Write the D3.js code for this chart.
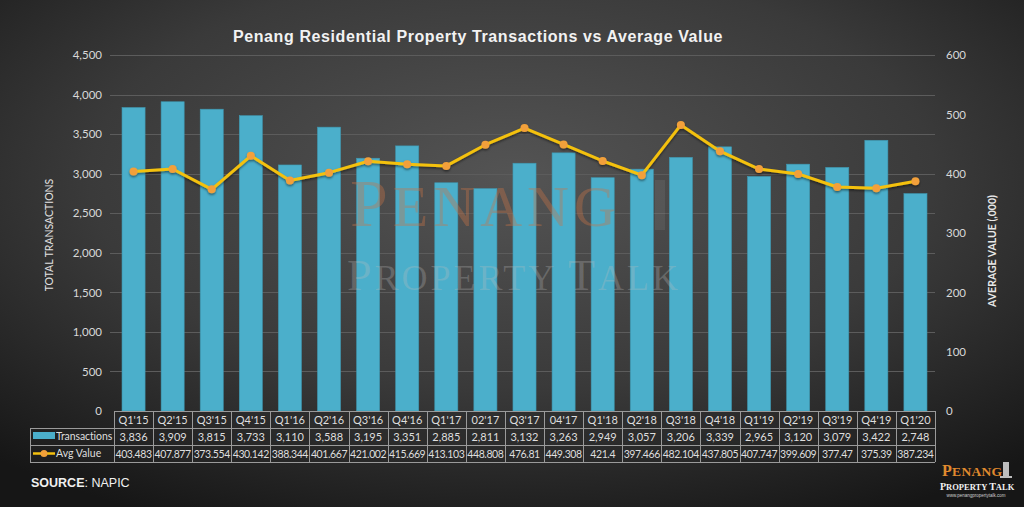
<!DOCTYPE html>
<html><head><meta charset="utf-8">
<script src="https://cdn.jsdelivr.net/npm/d3@7"></script>
<style>
html,body{margin:0;padding:0;background:#2a2a2a;}
svg{display:block;}
</style></head>
<body>
<svg id="chart" width="1024" height="507"></svg>
<script>
const categories = ["Q1'15","Q2'15","Q3'15","Q4'15","Q1'16","Q2'16","Q3'16","Q4'16","Q1'17","02'17","Q3'17","04'17","Q1'18","Q2'18","Q3'18","Q4'18","Q1'19","Q2'19","Q3'19","Q4'19","Q1'20"];
const transactions = [3836,3909,3815,3733,3110,3588,3195,3351,2885,2811,3132,3263,2949,3057,3206,3339,2965,3120,3079,3422,2748];
const avgValue = [403.483,407.877,373.554,430.142,388.344,401.667,421.002,415.669,413.103,448.808,476.81,449.308,421.4,397.466,482.104,437.805,407.747,399.609,377.47,375.39,387.234];
const avgLabels = ["403.483","407.877","373.554","430.142","388.344","401.667","421.002","415.669","413.103","448.808","476.81","449.308","421.4","397.466","482.104","437.805","407.747","399.609","377.47","375.39","387.234"];
const leftTicks = [0,500,1000,1500,2000,2500,3000,3500,4000,4500];
const rightTicks = [0,100,200,300,400,500,600];
const titleText = "Penang Residential Property Transactions vs Average Value";

const svg = d3.select("#chart");
const W = 1024, H = 507;
const plot = {l:114, r:935, t:55, b:411};
const font = "Lato, 'Open Sans', sans-serif";
const serif = "'Liberation Serif', 'DejaVu Serif', serif";

// background
const defs = svg.append("defs");
const rg = defs.append("radialGradient").attr("id","bg").attr("cx","0.5").attr("cy","0.35").attr("r","0.75");
rg.append("stop").attr("offset","0").attr("stop-color","#545454");
rg.append("stop").attr("offset","0.55").attr("stop-color","#3a3a3a");
rg.append("stop").attr("offset","1").attr("stop-color","#161616");
svg.append("rect").attr("width",W).attr("height",H).attr("fill","url(#bg)");

const x = d3.scaleBand().domain(categories).range([plot.l, plot.r]).paddingInner(0.41).paddingOuter(0.205);
const xCell = d3.scaleBand().domain(categories).range([plot.l, plot.r]);
const yL = d3.scaleLinear().domain([0,4500]).range([plot.b, plot.t]);
const yR = d3.scaleLinear().domain([0,600]).range([plot.b, plot.t]);

// gridlines
svg.append("g").selectAll("line").data(leftTicks.filter(d=>d>0)).join("line")
  .attr("x1", plot.l-4).attr("x2", plot.r)
  .attr("y1", d=>Math.round(yL(d))+0.5).attr("y2", d=>Math.round(yL(d))+0.5)
  .attr("stroke","#5c5c5c").attr("stroke-width",1);

// bars
svg.append("g").selectAll("rect").data(transactions).join("rect")
  .attr("x",(d,i)=>x(categories[i])).attr("width",x.bandwidth())
  .attr("y",d=>yL(d)).attr("height",d=>plot.b-yL(d))
  .attr("fill","#4bafcb").attr("stroke","#3f97b0").attr("stroke-width",0.6);

// watermark (small caps style), drawn over bars
const wm = svg.append("g").attr("pointer-events","none");
const w1 = wm.append("text").attr("x",350).attr("y",226).attr("font-family",serif)
  .attr("letter-spacing",5).attr("fill","rgba(200,115,70,0.38)");
w1.append("tspan").attr("font-size",68).text("P");
w1.append("tspan").attr("font-size",58).text("ENANG");
const w2 = wm.append("text").attr("x",347).attr("y",290).attr("font-family",serif)
  .attr("letter-spacing",3).attr("fill","rgba(190,190,190,0.28)");
w2.append("tspan").attr("font-size",44).text("P");
w2.append("tspan").attr("font-size",36).text("ROPERTY ");
w2.append("tspan").attr("font-size",44).text("T");
w2.append("tspan").attr("font-size",36).text("ALK");
wm.append("rect").attr("x",655).attr("y",180).attr("width",10).attr("height",50).attr("fill","rgba(200,200,200,0.10)");

// line
const line = d3.line().x((d,i)=>x(categories[i])+x.bandwidth()/2).y(d=>yR(d));
defs.append("filter").attr("id","sh").attr("x","-10%").attr("y","-10%").attr("width","120%").attr("height","130%")
  .append("feDropShadow").attr("dx",0).attr("dy",1.5).attr("stdDeviation",1).attr("flood-color","#000").attr("flood-opacity",0.5);
const lg = svg.append("g").attr("filter","url(#sh)");
lg.append("path").datum(avgValue).attr("d",line).attr("fill","none").attr("stroke","#f4c10f").attr("stroke-width",3).attr("stroke-linejoin","round");
lg.selectAll("circle").data(avgValue).join("circle")
  .attr("cx",(d,i)=>x(categories[i])+x.bandwidth()/2).attr("cy",d=>yR(d)).attr("r",4)
  .attr("fill","#f2a03a");

// left axis
const la = svg.append("g").attr("transform",`translate(${plot.l-12},0)`)
  .call(d3.axisLeft(yL).tickValues(leftTicks).tickFormat(d3.format(",")).tickSize(0).tickPadding(0));
la.select(".domain").remove();
la.selectAll("text").attr("font-family",font).attr("font-size",11.5).attr("fill","#d8d8d8");

// right axis
const ra = svg.append("g").attr("transform",`translate(${plot.r+11},0)`)
  .call(d3.axisRight(yR).tickValues(rightTicks).tickSize(0).tickPadding(0));
ra.select(".domain").remove();
ra.selectAll("text").attr("font-family",font).attr("font-size",11.5).attr("fill","#d8d8d8");

// axis titles
svg.append("text").attr("transform","translate(53,235) rotate(-90)").attr("text-anchor","middle")
  .attr("font-family",font).attr("font-size",10.5).attr("fill","#e0e0e0").text("TOTAL TRANSACTIONS");
svg.append("text").attr("transform","translate(996,251) rotate(-90)").attr("text-anchor","middle")
  .attr("font-family",font).attr("font-size",10.5).attr("font-weight","bold").attr("fill","#e8e8e8").text("AVERAGE VALUE (,000)");

// title
svg.append("text").attr("x",478).attr("y",42).attr("text-anchor","middle")
  .attr("font-family","'Liberation Sans', Arial, sans-serif").attr("font-weight","bold").attr("font-size",16)
  .attr("letter-spacing",0.6).attr("fill","#f2f2f2").text(titleText);

// data table
const rows = [{t:411,b:428},{t:428,b:445},{t:445,b:462}];
const tbl = svg.append("g");
const gridStroke = "#9a9a9a";
tbl.append("rect").attr("x",30).attr("y",428).attr("width",plot.l-30).attr("height",34).attr("fill","rgba(40,40,40,0.35)");
tbl.append("rect").attr("x",plot.l).attr("y",411).attr("width",plot.r-plot.l).attr("height",51).attr("fill","rgba(40,40,40,0.35)");
tbl.append("line").attr("x1",plot.l).attr("x2",plot.r).attr("y1",411.5).attr("y2",411.5).attr("stroke",gridStroke);
[428,445,462].forEach(y=>tbl.append("line").attr("x1",30).attr("x2",plot.r).attr("y1",y+0.5).attr("y2",y+0.5).attr("stroke",gridStroke));
tbl.append("line").attr("x1",30.5).attr("x2",30.5).attr("y1",428).attr("y2",462).attr("stroke",gridStroke);
tbl.selectAll("line.v").data(categories.concat(["end"])).join("line").attr("class","v")
  .attr("x1",(d,i)=>Math.round(plot.l+i*xCell.bandwidth())+0.5).attr("x2",(d,i)=>Math.round(plot.l+i*xCell.bandwidth())+0.5)
  .attr("y1",411).attr("y2",462).attr("stroke",gridStroke);
const cellText = (arr, rowIdx, fs) => tbl.append("g").selectAll("text").data(arr).join("text")
  .attr("x",(d,i)=>xCell(categories[i])+xCell.bandwidth()/2).attr("y",(rows[rowIdx].t+rows[rowIdx].b)/2+4)
  .attr("text-anchor","middle").attr("font-family",font).attr("font-size",fs).attr("fill","#dedede").text(d=>d);
cellText(categories,0,11);
cellText(transactions.map(d3.format(",")),1,11);
cellText(avgLabels,2,10.5).attr("letter-spacing",-0.4);
// legend keys
tbl.append("rect").attr("x",33).attr("y",432).attr("width",22).attr("height",7).attr("fill","#4bafcb");
tbl.append("text").attr("x",56).attr("y",440).attr("font-family",font).attr("font-size",10.5).attr("letter-spacing",-0.1).attr("fill","#dedede").text("Transactions");
tbl.append("line").attr("x1",33).attr("x2",55).attr("y1",453.5).attr("y2",453.5).attr("stroke","#f4c10f").attr("stroke-width",2.5);
tbl.append("circle").attr("cx",44).attr("cy",453.5).attr("r",3.5).attr("fill","#f2a03a");
tbl.append("text").attr("x",56).attr("y",457).attr("font-family",font).attr("font-size",10.5).attr("fill","#dedede").text("Avg Value");

// source
const src = svg.append("text").attr("x",31).attr("y",487).attr("font-family","'Liberation Sans', Arial, sans-serif").attr("font-size",12.5).attr("fill","#f0f0f0");
src.append("tspan").attr("font-weight","bold").text("SOURCE");
src.append("tspan").text(": NAPIC");

// logo
const logo = svg.append("g");
const l1 = logo.append("text").attr("x",942).attr("y",476).attr("font-family",serif).attr("font-weight","bold")
  .attr("letter-spacing",0.3).attr("fill","#e08a2e");
l1.append("tspan").attr("font-size",16).text("P");
l1.append("tspan").attr("font-size",13.5).text("ENANG");
logo.append("rect").attr("x",1003).attr("y",462).attr("width",6).attr("height",15).attr("fill","#bdbdbd");
logo.append("rect").attr("x",1000).attr("y",476).attr("width",12).attr("height",2).attr("fill","#bdbdbd");
const l2 = logo.append("text").attr("x",940).attr("y",490).attr("font-family",serif).attr("font-weight","bold")
  .attr("fill","#f2f2f2");
l2.append("tspan").attr("font-size",10).text("P");
l2.append("tspan").attr("font-size",8.5).text("ROPERTY ");
l2.append("tspan").attr("font-size",10).text("T");
l2.append("tspan").attr("font-size",8.5).text("ALK");
logo.append("text").attr("x",976).attr("y",497).attr("text-anchor","middle").attr("font-family","'Liberation Sans', sans-serif")
  .attr("font-size",4.5).attr("fill","#cfcfcf").text("www.penangpropertytalk.com");
</script>
</body></html>
